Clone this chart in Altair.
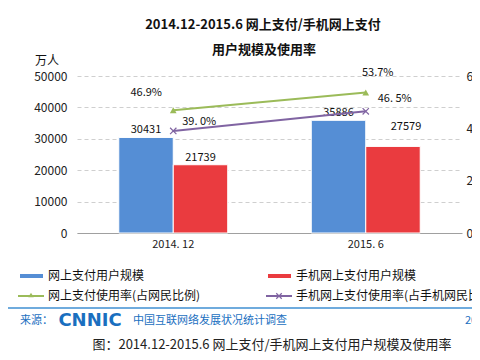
import altair as alt
import pandas as pd

# ---- data ----
categories = ["2014. 12", "2015. 6"]
series = ["网上支付用户规模", "手机网上支付用户规模"]
online_users = [30431, 35886]
mobile_users = [21739, 27579]
rate_series = ["网上支付使用率(占网民比例)", "手机网上支付使用率(占手机网民比例)"]
online_rate = [46.9, 53.7]
mobile_rate = [39.0, 46.5]
online_rate_labels = ["46.9%", "53.7%"]
mobile_rate_labels = ["39. 0%", "46. 5%"]
left_ticks = [0, 10000, 20000, 30000, 40000, 50000]
right_ticks = [0, 20, 40, 60]

title_lines = ["2014.12-2015.6 网上支付/手机网上支付", "用户规模及使用率"]
unit_label = "万人"
source_label = "来源："
logo_label = "CNNIC"
source_name = "中国互联网络发展状况统计调查"
source_date = "2015.7"
caption = "图：2014.12-2015.6 网上支付/手机网上支付用户规模及使用率"

BLUE = "#558ED5"
RED = "#EA3B3F"
GREEN = "#9BBB59"
PURPLE = "#8064A2"
FONT = "Noto Sans CJK SC"

bar_df = pd.DataFrame({
    "cat": categories * 2,
    "series": [series[0]] * 2 + [series[1]] * 2,
    "value": online_users + mobile_users,
})
rate_df = pd.DataFrame({
    "cat": categories * 2,
    "series": [rate_series[0]] * 2 + [rate_series[1]] * 2,
    "rate": online_rate + mobile_rate,
    "label": online_rate_labels + mobile_rate_labels,
})

xscale = alt.Scale(domain=categories, paddingInner=0.434, paddingOuter=0.217)
xaxis = alt.Axis(title=None, labelAngle=0, ticks=False, domain=True, domainColor="#a0a0a0",
                 labelFont=FONT, labelFontSize=11, labelColor="#222", labelPadding=5, grid=False)
X = alt.X("cat:N", scale=xscale, axis=xaxis, sort=categories)
XO = alt.XOffset("series:N", sort=series, scale=alt.Scale(domain=series))
Y = alt.Y("value:Q", scale=alt.Scale(domain=[0, 50000]),
          axis=alt.Axis(title=None, values=left_ticks, format="d", ticks=False, domain=False,
                        labelFont=FONT, labelFontSize=12, labelColor="#222", labelPadding=10,
                        grid=True, gridDash=[4, 3], gridColor="#cfcfcf"))

bars = alt.Chart(bar_df).mark_bar(stroke="white", strokeWidth=1).encode(
    x=X, xOffset=XO, y=Y,
    color=alt.Color("series:N", scale=alt.Scale(domain=series, range=[BLUE, RED]), legend=None),
)

def bar_label(cond, dx, dy):
    return alt.Chart(bar_df).transform_filter(cond).mark_text(
        font=FONT, fontSize=11, color="#111", baseline="bottom", dx=dx, dy=dy
    ).encode(x=X, xOffset=XO, y=Y, text=alt.Text("value:Q", format="d"))

lbl1 = bar_label(~((alt.datum.cat == categories[1]) & (alt.datum.series == series[1])), 0, -2)
lbl2 = bar_label((alt.datum.cat == categories[1]) & (alt.datum.series == series[1]), 13, -14)

# ---- rate lines ----
Y2 = alt.Y("rate:Q", scale=alt.Scale(domain=[0, 60]),
           axis=alt.Axis(title=None, orient="right", values=right_ticks, ticks=False, domain=False,
                         grid=False, labelExpr="datum.value + '%'", labelFont=FONT,
                         labelFontSize=12, labelColor="#222", labelPadding=4))

green = alt.Chart(rate_df).transform_filter(alt.datum.series == rate_series[0])
purple = alt.Chart(rate_df).transform_filter(alt.datum.series == rate_series[1])

g_line = green.mark_line(color=GREEN, strokeWidth=2).encode(x=X, y=Y2)
g_pts = green.mark_point(shape="triangle-up", filled=True, color=GREEN, size=45, opacity=1).encode(x=X, y=Y2)
p_line = purple.mark_line(color=PURPLE, strokeWidth=2).encode(x=X, y=Y2)
p_pts = purple.mark_point(shape="M-1,-1L1,1M1,-1L-1,1", filled=False, color=PURPLE, size=40,
                          strokeWidth=1.2, opacity=1).encode(x=X, y=Y2)

def rate_label(src, cat, dx, dy):
    return src.transform_filter(alt.datum.cat == cat).mark_text(
        font=FONT, fontSize=11, color="#111", dx=dx, dy=dy
    ).encode(x=X, y=Y2, text="label:N")

rl = [
    rate_label(green, categories[0], -27, -17),
    rate_label(green, categories[1], 12, -19),
    rate_label(purple, categories[0], 26, -9),
    rate_label(purple, categories[1], 29, -12),
]

# ---- decorations (pixel positions relative to the plot area) ----
def txt(t, x, y, size=12, color="#111", align="center", weight="normal", font=FONT, baseline="middle"):
    return alt.Chart(pd.DataFrame({"t": [t]})).mark_text(
        font=font, fontSize=size, color=color, align=align, fontWeight=weight, baseline=baseline
    ).encode(text="t:N", x=alt.value(x), y=alt.value(y))

def rule(x1, x2, y, color, width):
    return alt.Chart(pd.DataFrame({"a": [0]})).mark_rule(color=color, strokeWidth=width).encode(
        x=alt.value(x1), x2=alt.value(x2), y=alt.value(y))

def marker(x, y, shape, color, filled, size):
    return alt.Chart(pd.DataFrame({"a": [0]})).mark_point(
        shape=shape, color=color, filled=filled, size=size, opacity=1, strokeWidth=1.2
    ).encode(x=alt.value(x), y=alt.value(y))

deco = [
    txt(title_lines[0], 186, -51, size=13, weight="bold"),
    txt(title_lines[1], 187, -26, size=13, weight="bold"),
    txt(unit_label, -30, -15, size=12),
    # legend
    rule(-57, -34, 200, BLUE, 4),
    txt(series[0], -29, 200, size=12, align="left"),
    rule(191, 214, 200, RED, 4),
    txt(series[1], 219, 200, size=12, align="left"),
    rule(-59, -33, 220, GREEN, 2),
    marker(-46, 219, "triangle-up", GREEN, True, 30),
    txt(rate_series[0], -29, 220, size=12, align="left"),
    rule(189, 215, 220, PURPLE, 2),
    marker(202, 220, "M-1,-1L1,1M1,-1L-1,1", PURPLE, False, 30),
    txt(rate_series[1], 219, 220, size=12, align="left"),
    # source
    rule(-77, 403, 232, "#3f8fd2", 1.5),
    txt(source_label, -57, 245, size=11, color="#1a6fbf", align="left"),
    txt(logo_label, 13, 245, size=18, color="#1a6fbf", weight="bold", font="DejaVu Sans"),
    txt(source_name, 56, 245, size=11, color="#1a6fbf", align="left"),
    txt(source_date, 388, 245, size=11, color="#1a6fbf", align="left"),
    txt(caption, 195, 269, size=13, color="#222"),
]

left = alt.layer(bars, lbl1, lbl2, *deco)
right = alt.layer(g_line, p_line, g_pts, p_pts, *rl)

chart = alt.layer(left, right).resolve_scale(y="independent").properties(
    width=385, height=157,
    padding={"left": 69, "top": 68, "right": 10, "bottom": 119},
    autosize=alt.AutoSizeParams(type="none"),
    background="white",
).configure_view(strokeWidth=0)

chart.save("out.html", embed_options={"renderer": "svg", "actions": False})
